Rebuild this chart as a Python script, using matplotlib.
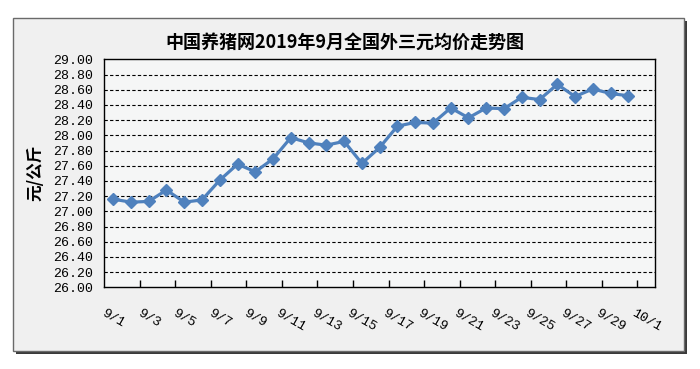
import numpy as np
import matplotlib
matplotlib.use("Agg")
import matplotlib.pyplot as plt
from matplotlib.patches import Rectangle

plt.rcParams['font.family'] = ['Noto Sans CJK SC', 'DejaVu Sans']

TITLE = "中国养猪网2019年9月全国外三元均价走势图"
Y_LABEL = "元/公斤"

# 9/1 .. 10/1 as categories, prices for 9/1 .. 9/30
dates = ["9/%d" % d for d in range(1, 31)] + ["10/1"]
prices = [27.16, 27.12, 27.13, 27.28, 27.12, 27.15, 27.41, 27.62, 27.52, 27.69,
          27.97, 27.90, 27.87, 27.92, 27.63, 27.84, 28.12, 28.17, 28.16, 28.36,
          28.23, 28.36, 28.35, 28.50, 28.47, 28.67, 28.51, 28.61, 28.55, 28.52]
y_ticks = np.arange(26.0, 29.01, 0.2)

W, H = 700, 369
fig = plt.figure(figsize=(W / 100, H / 100), dpi=100)
fig.patch.set_facecolor('white')

# chart area frame with a shadow
fig.patches.append(Rectangle((16 / W, 1 - 354 / H), 671 / W, 333 / H, transform=fig.transFigure,
                             facecolor='#3a3a3a', edgecolor='none', zorder=-2))
fig.patches.append(Rectangle((13 / W, 1 - 351 / H), 671 / W, 333 / H, transform=fig.transFigure,
                             facecolor='#f0f0f0', edgecolor='#6a6a6a', linewidth=1, zorder=-1))

ax = fig.add_axes([104.3 / W, 1 - 287.3 / H, 550.7 / W, 228 / H])
ax.set_zorder(1)
ax.set_facecolor('#f5f6f6')

x = np.arange(len(prices))
ax.plot(x, prices, color='#4f81bd', linewidth=2.3, marker='D', markersize=6.5,
        markerfacecolor='#4f81bd', markeredgecolor='#4f81bd', zorder=3)

ax.set_xlim(-0.5, len(dates) - 0.5)
ax.set_ylim(26.0, 29.0)

ax.set_yticks(y_ticks)
ax.set_yticklabels(["%.2f" % v for v in y_ticks], family='Liberation Mono', fontsize=9.5)
ax.tick_params(axis='y', length=0, pad=8)
for v in y_ticks[1:-1]:
    ax.axhline(v, color='black', linewidth=0.8, linestyle=(0, (3, 2)), zorder=1)

label_pos = np.arange(0, len(dates), 2)
ax.set_xticks(label_pos)
ax.set_xticklabels([dates[i] for i in label_pos], rotation=-30, ha='center', va='top',
                   family='Liberation Mono', fontsize=9.5)
ax.set_xticks(np.arange(-0.5, len(dates) - 0.5, 2)[1:], minor=True)
ax.tick_params(axis='x', which='major', length=0, pad=14)
ax.tick_params(axis='x', which='minor', direction='in', length=5, width=1)

for s in ax.spines.values():
    s.set_color('black')
    s.set_linewidth(1)

ax.set_ylabel(Y_LABEL, fontsize=12, fontweight='bold', labelpad=6)

fig.text(345 / W, 1 - 42 / H, TITLE, ha='center', va='center', fontsize=13, fontweight='bold')

fig.savefig("out.png", dpi=100)
